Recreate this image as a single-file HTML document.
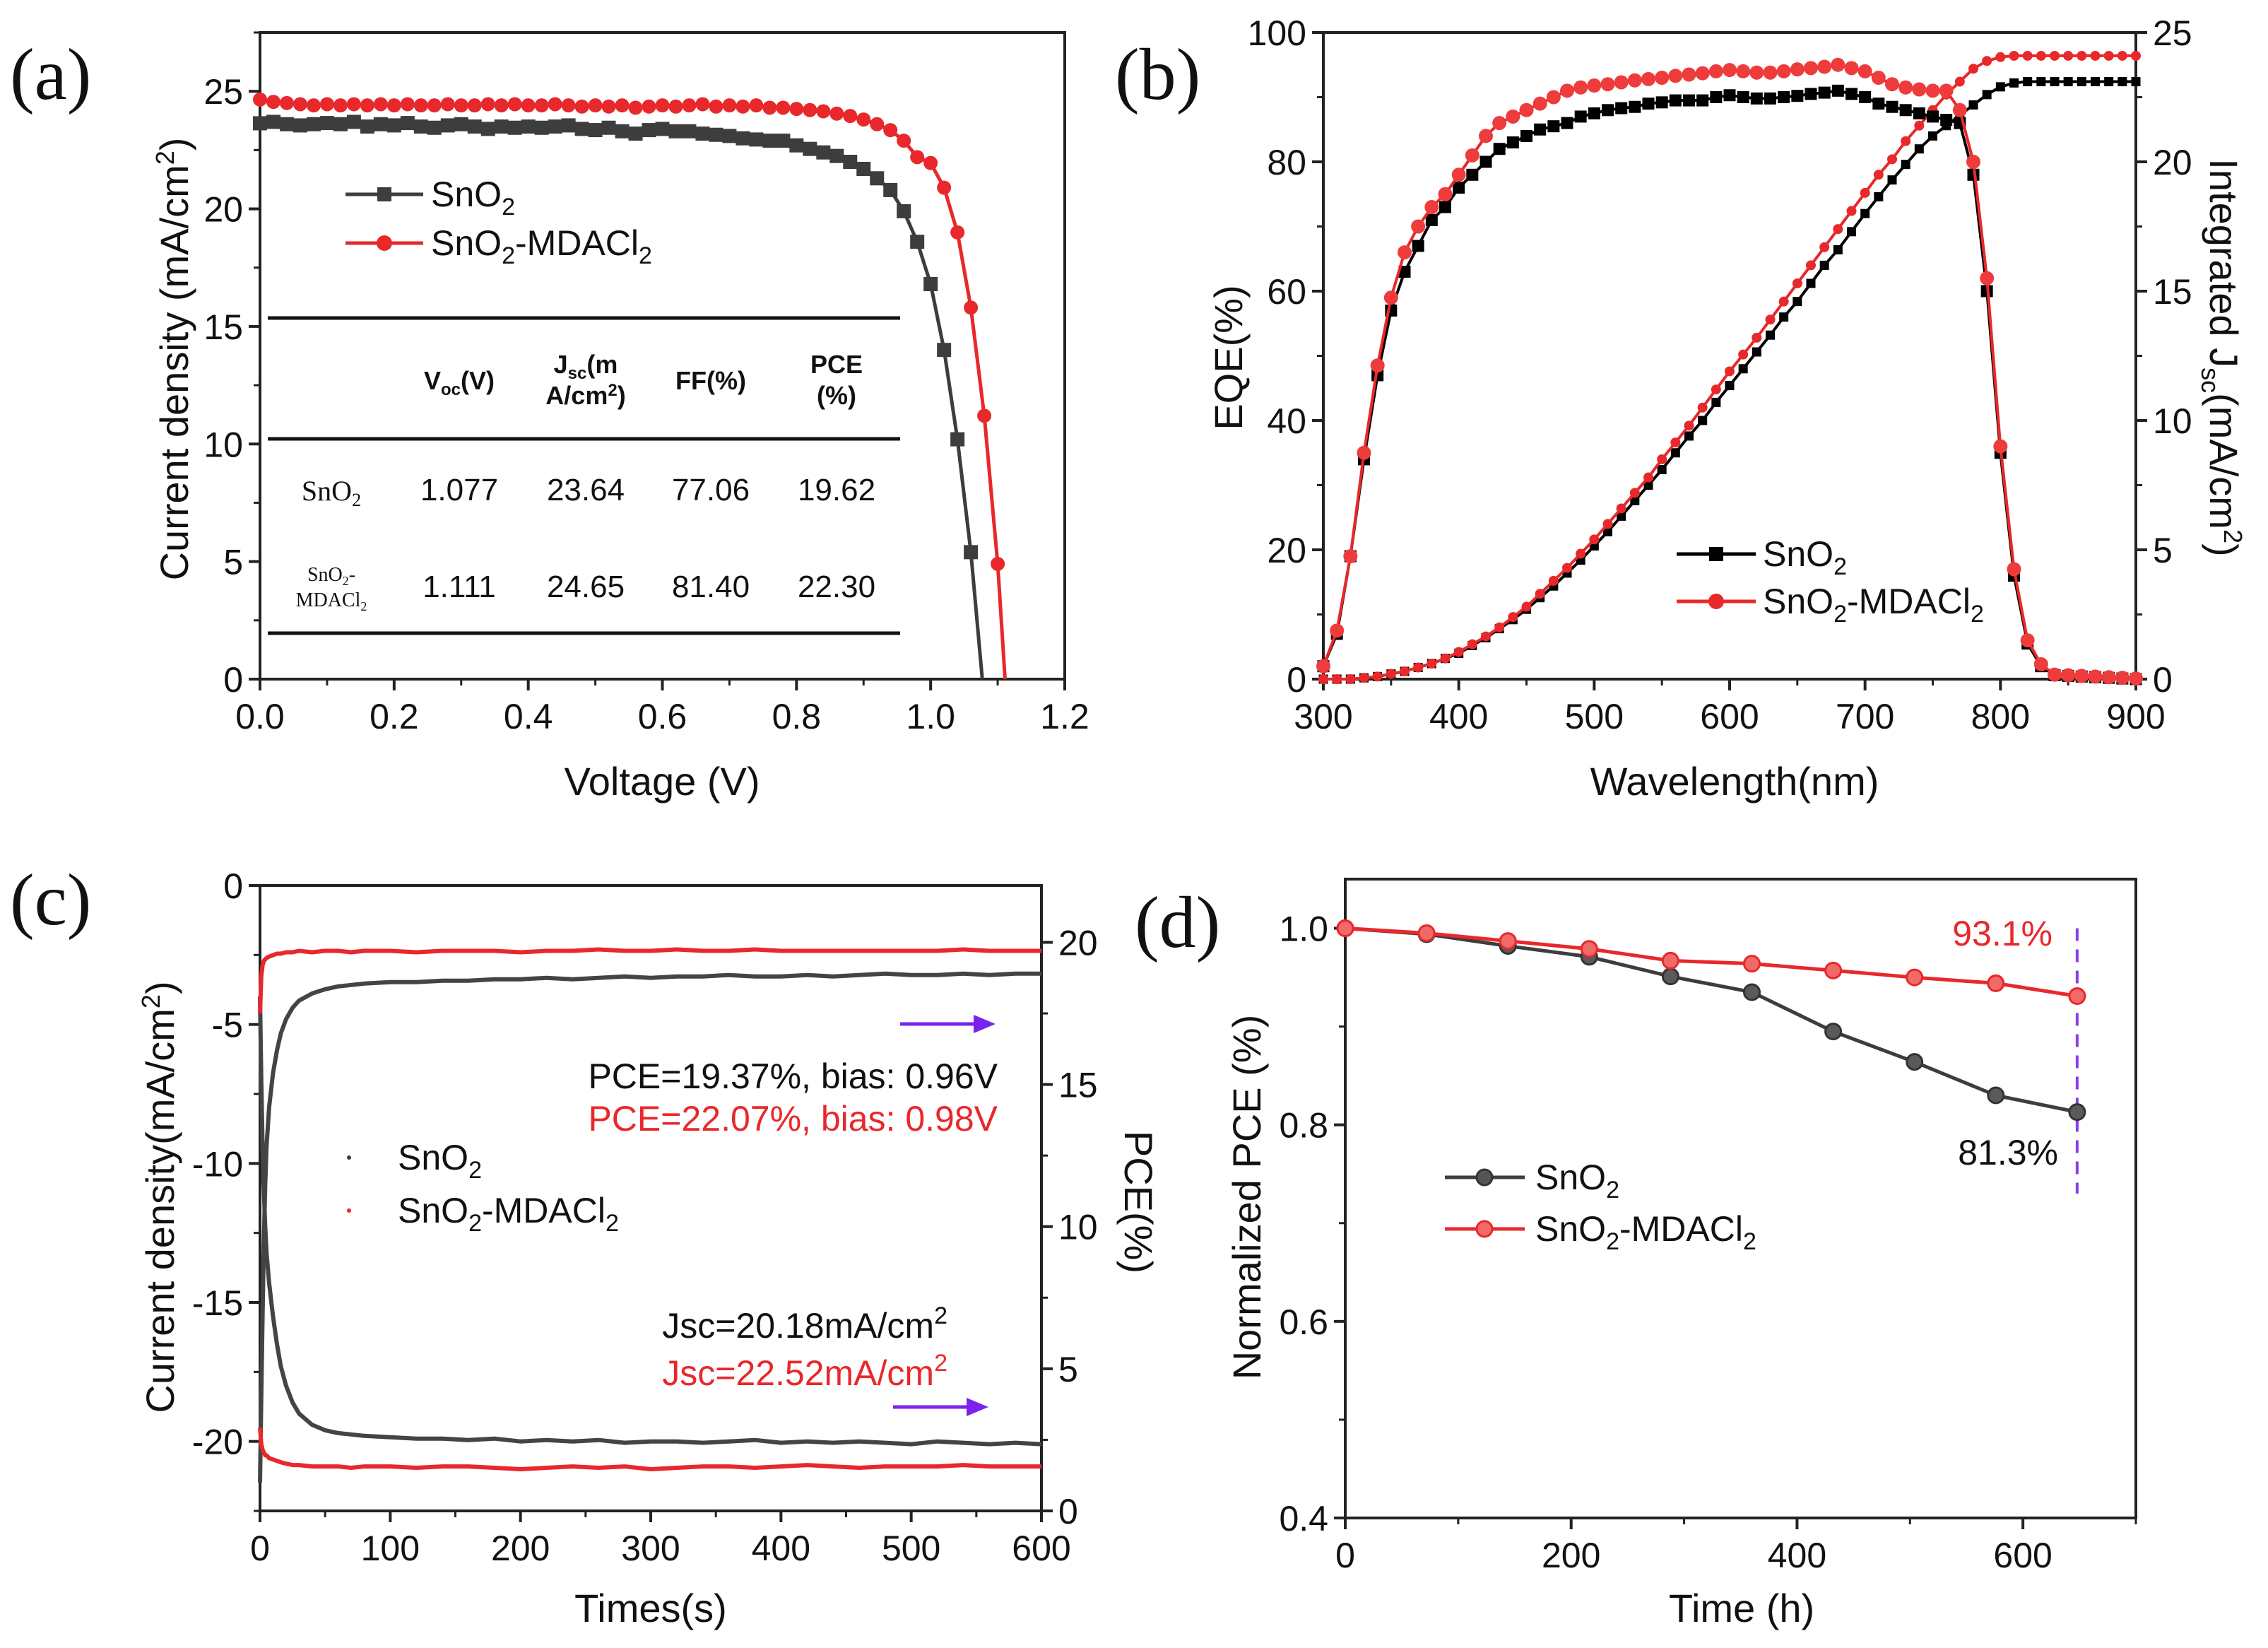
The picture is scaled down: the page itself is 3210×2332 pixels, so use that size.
<!DOCTYPE html>
<html><head><meta charset="utf-8"><style>
html,body{margin:0;padding:0;background:#fff;}
svg{display:block;font-family:"Liberation Sans",Arial,sans-serif;}
.tl{font-size:50px;fill:#111;}
.at{font-size:56px;fill:#111;}
.pl{font-family:"Liberation Serif",serif;font-size:104px;fill:#111;}
.lg{font-size:50px;fill:#111;}
</style></head><body>
<svg id="fig" width="3210" height="2332" viewBox="0 0 3210 2332" xmlns="http://www.w3.org/2000/svg">
<rect width="3210" height="2332" fill="#fff"/>
<g id="ga"></g>
<g id="gb"></g>
<g id="gc"></g>
<g id="gd"></g>

<text class="pl" x="14" y="140">(a)</text>
<text class="pl" x="1578" y="140">(b)</text>
<text class="pl" x="14" y="1308">(c)</text>
<text class="pl" x="1606" y="1340">(d)</text>

<text class="at" x="937" y="1125" text-anchor="middle">Voltage (V)</text>
<text class="at" transform="translate(266,508) rotate(-90)" text-anchor="middle">Current density (mA/cm<tspan dy="-20" font-size="36">2</tspan><tspan dy="20">)</tspan></text>
<g>
<line x1="489" y1="275" x2="599" y2="275" stroke="#3d3d3d" stroke-width="5"/>
<rect x="534" y="265" width="20" height="20" fill="#3d3d3d"/>
<text class="lg" x="610" y="292">SnO<tspan dy="12" font-size="34">2</tspan></text>
<line x1="489" y1="344" x2="599" y2="344" stroke="#e8282b" stroke-width="5"/>
<circle cx="544" cy="344" r="11" fill="#e8282b"/>
<text class="lg" x="610" y="361">SnO<tspan dy="12" font-size="34">2</tspan><tspan dy="-12">-MDACl</tspan><tspan dy="12" font-size="34">2</tspan></text>
</g>
<g fill="#111">
<line x1="379" y1="450" x2="1274" y2="450" stroke="#111" stroke-width="5"/>
<line x1="379" y1="621" x2="1274" y2="621" stroke="#111" stroke-width="5"/>
<line x1="379" y1="896" x2="1274" y2="896" stroke="#111" stroke-width="5"/>
<g font-weight="bold" font-size="36" text-anchor="middle">
<text x="650" y="551">V<tspan font-size="24" dy="8">oc</tspan><tspan dy="-8">(V)</tspan></text>
<text x="829" y="528">J<tspan font-size="24" dy="8">sc</tspan><tspan dy="-8">(m</tspan></text>
<text x="829" y="572">A/cm<tspan font-size="24" dy="-12">2</tspan><tspan dy="12">)</tspan></text>
<text x="1006" y="551">FF(%)</text>
<text x="1184" y="528">PCE</text>
<text x="1184" y="572">(%)</text>
</g>
<g font-size="44" text-anchor="middle">
<text x="650" y="708">1.077</text><text x="829" y="708">23.64</text><text x="1006" y="708">77.06</text><text x="1184" y="708">19.62</text>
<text x="650" y="845">1.111</text><text x="829" y="845">24.65</text><text x="1006" y="845">81.40</text><text x="1184" y="845">22.30</text>
</g>
<g font-family="'Liberation Serif',serif" text-anchor="middle">
<text x="469" y="708" font-size="40">SnO<tspan font-size="26" dy="8">2</tspan></text>
<text x="469" y="822" font-size="28">SnO<tspan font-size="18" dy="6">2</tspan><tspan dy="-6">-</tspan></text>
<text x="469" y="858" font-size="28">MDACl<tspan font-size="18" dy="6">2</tspan></text>
</g>
</g>

<text class="at" x="2455" y="1125" text-anchor="middle">Wavelength(nm)</text>
<text class="at" transform="translate(1758,506) rotate(-90)" text-anchor="middle">EQE(%)</text>
<text class="at" transform="translate(3128,506) rotate(90)" text-anchor="middle">Integrated J<tspan dy="12" font-size="36">sc</tspan><tspan dy="-12">(mA/cm</tspan><tspan dy="-20" font-size="36">2</tspan><tspan dy="20">)</tspan></text>
<g>
<line x1="2373" y1="784" x2="2485" y2="784" stroke="#000" stroke-width="5"/>
<rect x="2419" y="774" width="20" height="20" fill="#000"/>
<text class="lg" x="2495" y="801">SnO<tspan dy="12" font-size="34">2</tspan></text>
<line x1="2373" y1="851" x2="2485" y2="851" stroke="#e8282b" stroke-width="5"/>
<circle cx="2429" cy="851" r="11" fill="#e8282b"/>
<text class="lg" x="2495" y="868">SnO<tspan dy="12" font-size="34">2</tspan><tspan dy="-12">-MDACl</tspan><tspan dy="12" font-size="34">2</tspan></text>
</g>

<text class="at" x="921" y="2295" text-anchor="middle">Times(s)</text>
<text class="at" transform="translate(246,1694) rotate(-90)" text-anchor="middle">Current density(mA/cm<tspan dy="-20" font-size="36">2</tspan><tspan dy="20">)</tspan></text>
<text class="at" transform="translate(1592,1701) rotate(90)" text-anchor="middle">PCE(%)</text>
<g>
<circle cx="494" cy="1638" r="3" fill="#3d3d3d"/>
<text class="lg" x="563" y="1655">SnO<tspan dy="12" font-size="34">2</tspan></text>
<circle cx="494" cy="1713" r="3" fill="#e8282b"/>
<text class="lg" x="563" y="1730">SnO<tspan dy="12" font-size="34">2</tspan><tspan dy="-12">-MDACl</tspan><tspan dy="12" font-size="34">2</tspan></text>
</g>
<g font-size="50" text-anchor="end">
<text x="1412" y="1540" fill="#111">PCE=19.37%, bias: 0.96V</text>
<text x="1412" y="1600" fill="#e8282b">PCE=22.07%, bias: 0.98V</text>
<text x="1341" y="1893" fill="#111">Jsc=20.18mA/cm<tspan dy="-20" font-size="34">2</tspan></text>
<text x="1341" y="1960" fill="#e8282b">Jsc=22.52mA/cm<tspan dy="-20" font-size="34">2</tspan></text>
</g>
<g>
<line x1="1274" y1="1449" x2="1385" y2="1449" stroke="#7b22f0" stroke-width="5"/>
<polygon points="1409,1449 1378,1436 1378,1462" fill="#7b22f0"/>
</g>
<g>
<line x1="1264" y1="1991" x2="1375" y2="1991" stroke="#7b22f0" stroke-width="5"/>
<polygon points="1399,1991 1368,1978 1368,2004" fill="#7b22f0"/>
</g>

<text class="at" x="2465" y="2295" text-anchor="middle">Time (h)</text>
<text class="at" transform="translate(1784,1694) rotate(-90)" text-anchor="middle">Normalized PCE (%)</text>
<g>
<line x1="2045" y1="1666" x2="2158" y2="1666" stroke="#3d3d3d" stroke-width="5"/>
<circle cx="2101" cy="1666" r="11" fill="#555" stroke="#333" stroke-width="3"/>
<text class="lg" x="2173" y="1683">SnO<tspan dy="12" font-size="34">2</tspan></text>
<line x1="2045" y1="1739" x2="2158" y2="1739" stroke="#e8282b" stroke-width="5"/>
<circle cx="2101" cy="1739" r="11" fill="#f06a6a" stroke="#e8282b" stroke-width="3"/>
<text class="lg" x="2173" y="1756">SnO<tspan dy="12" font-size="34">2</tspan><tspan dy="-12">-MDACl</tspan><tspan dy="12" font-size="34">2</tspan></text>
</g>
<text x="2905" y="1338" font-size="50" fill="#e8282b" text-anchor="end">93.1%</text>
<text x="2913" y="1648" font-size="50" fill="#111" text-anchor="end">81.3%</text>
</svg>
<script>
const jvV = [0,0.02,0.04,0.06,0.08,0.1,0.12,0.14,0.16,0.18,0.2,0.22,0.24,0.26,0.28,0.3,0.32,0.34,0.36,0.38,0.4,0.42,0.44,0.46,0.48,0.5,0.52,0.54,0.56,0.58,0.6,0.62,0.64,0.66,0.68,0.7,0.72,0.74,0.76,0.78,0.8,0.82,0.84,0.86,0.88,0.9,0.92,0.94,0.96,0.98,1.0,1.02,1.04,1.06];
const jvSnO2 = [23.64,23.7,23.6,23.55,23.6,23.65,23.6,23.7,23.5,23.6,23.55,23.65,23.5,23.45,23.55,23.6,23.5,23.4,23.5,23.45,23.5,23.45,23.5,23.55,23.4,23.35,23.45,23.3,23.2,23.35,23.4,23.3,23.3,23.2,23.15,23.1,23.0,22.95,22.9,22.9,22.7,22.55,22.4,22.25,22.0,21.7,21.3,20.8,19.9,18.6,16.8,14.0,10.2,5.4];
const jvV2 = [0,0.02,0.04,0.06,0.08,0.1,0.12,0.14,0.16,0.18,0.2,0.22,0.24,0.26,0.28,0.3,0.32,0.34,0.36,0.38,0.4,0.42,0.44,0.46,0.48,0.5,0.52,0.54,0.56,0.58,0.6,0.62,0.64,0.66,0.68,0.7,0.72,0.74,0.76,0.78,0.8,0.82,0.84,0.86,0.88,0.9,0.92,0.94,0.96,0.98,1.0,1.02,1.04,1.06,1.08,1.1];
const jvMDA = [24.65,24.55,24.5,24.45,24.4,24.45,24.4,24.45,24.4,24.45,24.4,24.45,24.4,24.4,24.45,24.4,24.4,24.45,24.4,24.45,24.4,24.4,24.45,24.4,24.35,24.4,24.35,24.4,24.3,24.35,24.4,24.35,24.4,24.45,24.35,24.4,24.35,24.4,24.3,24.3,24.25,24.2,24.15,24.05,23.95,23.8,23.6,23.35,22.9,22.2,21.95,20.9,19.0,15.8,11.2,4.9];
const vocSnO2 = 1.077, vocMDA = 1.111;
const wl = [300,310,320,330,340,350,360,370,380,390,400,410,420,430,440,450,460,470,480,490,500,510,520,530,540,550,560,570,580,590,600,610,620,630,640,650,660,670,680,690,700,710,720,730,740,750,760,770,780,790,800,810,820,830,840,850,860,870,880,890,900];
const eqeSnO2 = [2,7,19,34,47,57,63,67,71,73,76,78,80,82,83,84,85,85.5,86,87,87.5,88,88.3,88.5,89,89.2,89.5,89.5,89.5,90,90.3,90,89.8,89.8,90,90.2,90.5,90.7,91,90.5,90,89,88.5,88,87.5,87,86.5,86,78,60,35,16,5.5,2,0.6,0.5,0.4,0.3,0.2,0.1,0];
const eqeMDA = [2,7.5,19,35,48.5,59,66,70,73,75,78,81,84,86,87,88,89,90,91,91.5,91.8,92,92.3,92.6,92.8,93,93.3,93.5,93.7,94,94.2,94,93.8,93.8,94,94.3,94.5,94.7,95,94.5,94,93,92,91.5,91.2,91,91,88,80,62,36,17,6,2.3,0.7,0.6,0.5,0.4,0.3,0.2,0.1];
const intSnO2 = [0,0,0,0.05,0.1,0.2,0.3,0.45,0.6,0.8,1.0,1.3,1.6,1.95,2.3,2.7,3.15,3.6,4.1,4.6,5.15,5.7,6.3,6.9,7.5,8.1,8.75,9.4,10.0,10.7,11.35,12.0,12.65,13.3,14.0,14.6,15.3,16.0,16.6,17.3,18.0,18.65,19.3,19.9,20.5,21.0,21.4,21.8,22.2,22.6,22.9,23.05,23.1,23.1,23.1,23.1,23.1,23.1,23.1,23.1,23.1];
const intMDA = [0,0,0,0.05,0.1,0.2,0.3,0.45,0.6,0.8,1.05,1.35,1.65,2.0,2.4,2.8,3.3,3.8,4.3,4.85,5.4,6.0,6.6,7.2,7.8,8.5,9.15,9.8,10.5,11.2,11.9,12.55,13.2,13.9,14.6,15.3,16.0,16.7,17.4,18.1,18.8,19.5,20.1,20.8,21.4,22.0,22.6,23.1,23.6,23.9,24.05,24.1,24.1,24.1,24.1,24.1,24.1,24.1,24.1,24.1,24.1];
const tC = [0,1,2,3,4,5,7,10,13,16,20,25,30,40,50,60,70,80,100,120,140,160,180,200,220,240,260,280,300,320,340,360,380,400,420,440,460,480,500,520,540,560,580,600];
const jSnO2 = [-4,-7,-9.5,-11,-12.3,-13.2,-14.3,-15.5,-16.5,-17.3,-18,-18.6,-19,-19.4,-19.6,-19.7,-19.75,-19.8,-19.85,-19.9,-19.9,-19.95,-19.9,-20,-19.95,-20,-19.95,-20.05,-20,-20,-20.05,-20,-19.95,-20.05,-20,-20.05,-20,-20.05,-20.1,-20,-20.05,-20.1,-20.05,-20.1];
const pceSnO2 = [1,4,7,9.5,11.5,12.8,14.2,15.4,16.2,16.8,17.3,17.7,17.95,18.2,18.35,18.45,18.5,18.55,18.6,18.6,18.65,18.65,18.7,18.7,18.75,18.7,18.75,18.8,18.75,18.8,18.8,18.85,18.8,18.8,18.85,18.8,18.85,18.9,18.85,18.85,18.9,18.85,18.9,18.9];
const jMDA = [-19.5,-20.1,-20.3,-20.4,-20.5,-20.5,-20.6,-20.65,-20.7,-20.75,-20.8,-20.85,-20.85,-20.9,-20.9,-20.9,-20.95,-20.9,-20.9,-20.95,-20.9,-20.9,-20.95,-21,-20.95,-20.9,-20.95,-20.9,-21,-20.95,-20.9,-20.9,-20.95,-20.9,-20.85,-20.9,-20.95,-20.9,-20.9,-20.9,-20.85,-20.9,-20.9,-20.9];
const pceMDA = [17.5,18.8,19.2,19.35,19.4,19.45,19.5,19.55,19.6,19.6,19.65,19.65,19.7,19.65,19.7,19.7,19.65,19.7,19.7,19.65,19.7,19.7,19.7,19.65,19.7,19.7,19.75,19.7,19.7,19.75,19.7,19.7,19.75,19.7,19.7,19.7,19.7,19.7,19.7,19.7,19.75,19.7,19.7,19.7];
const tD = [0,72,144,216,288,360,432,504,576,648];
const normSnO2 = [1.0,0.994,0.982,0.971,0.951,0.935,0.895,0.864,0.830,0.813];
const normMDA = [1.0,0.995,0.987,0.979,0.967,0.964,0.957,0.950,0.944,0.931];
const ticksAx = [0,0.2,0.4,0.6,0.8,1.0,1.2], ticksAy = [0,5,10,15,20,25];
const ticksBx = [300,400,500,600,700,800,900], ticksBy = [0,20,40,60,80,100], ticksBy2 = [0,5,10,15,20,25];
const ticksCx = [0,100,200,300,400,500,600], ticksCy = [0,-5,-10,-15,-20], ticksCy2 = [0,5,10,15,20];
const ticksDx = [0,200,400,600], ticksDy = [0.4,0.6,0.8,1.0];

const NS = "http://www.w3.org/2000/svg";
function mk(parent, tag, attrs){ const e = document.createElementNS(NS, tag); for (const k in attrs) e.setAttribute(k, attrs[k]); parent.appendChild(e); return e; }
function scale(d0,d1,r0,r1){ return v => r0 + (v-d0)/(d1-d0)*(r1-r0); }

function frame(g, L, T, R, B){
  const f = mk(g,'rect',{x:L,y:T,width:R-L,height:B-T,fill:'none',stroke:'#222','stroke-width':4});
  
  
}
function xTicks(g, sx, B, ticks, minorStep, fmt, xmin, xmax){
  for (const t of ticks){
    const l = mk(g,'line',{x1:sx(t),y1:B,x2:sx(t),y2:B+16,stroke:'#222','stroke-width':4});
    
    
    const tx = mk(g,'text',{x:sx(t),y:B+70,'text-anchor':'middle',class:'tl'});
    tx.textContent = fmt(t);
    
    
  }
  for (let v = xmin; v <= xmax + 1e-9; v += minorStep){
    const m = mk(g,'line',{x1:sx(v),y1:B,x2:sx(v),y2:B+9,stroke:'#222','stroke-width':3});
    
    
  }
}
function yTicks(g, sy, X, ticks, minorStep, fmt, ymin, ymax, side){
  const dir = side === 'right' ? 1 : -1;
  for (const t of ticks){
    const l = mk(g,'line',{x1:X,y1:sy(t),x2:X+dir*16,y2:sy(t),stroke:'#222','stroke-width':4});
    
    
    const tx = mk(g,'text',{x:X+dir*24,y:sy(t)+18,'text-anchor':side==='right'?'start':'end',class:'tl'});
    tx.textContent = fmt(t);
    
    
  }
  for (let v = ymin; v <= ymax + 1e-9; v += minorStep){
    const m = mk(g,'line',{x1:X,y1:sy(v),x2:X+dir*9,y2:sy(v),stroke:'#222','stroke-width':3});
    
    
  }
}
function path(g, xs, ys, sx, sy, color, w, name){
  const d = xs.map((x,i)=>(i?'L':'M')+sx(x).toFixed(1)+','+sy(ys[i]).toFixed(1)).join(' ');
  const p = mk(g,'path',{d:d,fill:'none',stroke:color,'stroke-width':w,'stroke-linejoin':'round'});
  
  
}
function squares(g, xs, ys, sx, sy, color, s, name){
  xs.forEach((x,i)=>{
    const r = mk(g,'rect',{x:sx(x)-s/2,y:sy(ys[i])-s/2,width:s,height:s,fill:color});
    
    
  });
}
function circles(g, xs, ys, sx, sy, fill, stroke, r, name){
  xs.forEach((x,i)=>{
    const c = mk(g,'circle',{cx:sx(x),cy:sy(ys[i]),r:r,fill:fill,stroke:stroke,'stroke-width':3});
    
    
  });
}

(function(){
  const g = document.getElementById('ga');
  const L=368,R=1507,T=46,B=961;
  const sx = scale(0,1.2,L,R), sy = scale(0,27.5,B,T);
  frame(g,L,T,R,B);
  xTicks(g,sx,B,ticksAx,0.1,t=>t.toFixed(1),0,1.2);
  yTicks(g,sy,L,ticksAy,2.5,t=>String(t),0,27.5,'left');
  path(g, jvV.concat([vocSnO2]), jvSnO2.concat([0]), sx, sy, '#3d3d3d', 5, 'series-sno2-line');
  squares(g, jvV, jvSnO2, sx, sy, '#3d3d3d', 20, 'point-sno2');
  path(g, jvV2.concat([vocMDA]), jvMDA.concat([0]), sx, sy, '#e8282b', 5, 'series-mdacl-line');
  circles(g, jvV2, jvMDA, sx, sy, '#e8282b', 'none', 10, 'point-mdacl');
})();

(function(){
  const g = document.getElementById('gb');
  const L=1873,R=3023,T=46,B=961;
  const sx = scale(300,900,L,R), sy = scale(0,100,B,T), sy2 = scale(0,25,B,T);
  frame(g,L,T,R,B);
  xTicks(g,sx,B,ticksBx,50,t=>String(t),300,900);
  yTicks(g,sy,L,ticksBy,10,t=>String(t),0,100,'left');
  yTicks(g,sy2,R,ticksBy2,2.5,t=>String(t),0,25,'right');
  path(g, wl, intSnO2, sx, sy2, '#000', 4, 'integrated-sno2-line');
  squares(g, wl, intSnO2, sx, sy2, '#000', 13, 'integrated-sno2-point');
  path(g, wl, intMDA, sx, sy2, '#e8282b', 4, 'integrated-mdacl-line');
  circles(g, wl, intMDA, sx, sy2, '#e8282b', 'none', 7, 'integrated-mdacl-point');
  path(g, wl, eqeSnO2, sx, sy, '#000', 4, 'eqe-sno2-line');
  squares(g, wl, eqeSnO2, sx, sy, '#000', 17, 'eqe-sno2-point');
  path(g, wl, eqeMDA, sx, sy, '#e8282b', 4, 'eqe-mdacl-line');
  circles(g, wl, eqeMDA, sx, sy, '#ee3b3b', 'none', 10, 'eqe-mdacl-point');
})();

(function(){
  const g = document.getElementById('gc');
  const L=368,R=1474,T=1253,B=2138;
  const sx = scale(0,600,L,R), sy = scale(-22.5,0,B,T), sy2 = scale(0,22,B,T);
  frame(g,L,T,R,B);
  xTicks(g,sx,B,ticksCx,50,t=>String(t),0,600);
  yTicks(g,sy,L,ticksCy,2.5,t=>String(t),-22.5,0,'left');
  yTicks(g,sy2,R,ticksCy2,2.5,t=>String(t),0,22,'right');
  path(g, tC, jSnO2, sx, sy, '#444', 6, 'jsc-sno2-trace');
  path(g, tC, pceSnO2, sx, sy2, '#444', 6, 'pce-sno2-trace');
  path(g, tC, jMDA, sx, sy, '#e8282b', 6, 'jsc-mdacl-trace');
  path(g, tC, pceMDA, sx, sy2, '#e8282b', 6, 'pce-mdacl-trace');
})();

(function(){
  const g = document.getElementById('gd');
  const L=1904,R=3023,T=1244,B=2148;
  const sx = scale(0,700,L,R), sy = scale(0.4,1.05,B,T);
  frame(g,L,T,R,B);
  xTicks(g,sx,B,ticksDx,100,t=>String(t),0,700);
  yTicks(g,sy,L,ticksDy,0.1,t=>t.toFixed(1),0.4,1.05,'left');
  const last = tD[tD.length-1];
  const dl = mk(g,'line',{x1:sx(last),y1:sy(1.0),x2:sx(last),y2:sy(0.73),stroke:'#8a3ee8','stroke-width':4,'stroke-dasharray':'18,12'});
  
  
  path(g, tD, normSnO2, sx, sy, '#3d3d3d', 5, 'series-sno2-line');
  circles(g, tD, normSnO2, sx, sy, '#5a5a5a', '#333', 11, 'point-sno2');
  path(g, tD, normMDA, sx, sy, '#e8282b', 5, 'series-mdacl-line');
  circles(g, tD, normMDA, sx, sy, '#f06a6a', '#e8282b', 11, 'point-mdacl');
})();
</script>
</body></html>
